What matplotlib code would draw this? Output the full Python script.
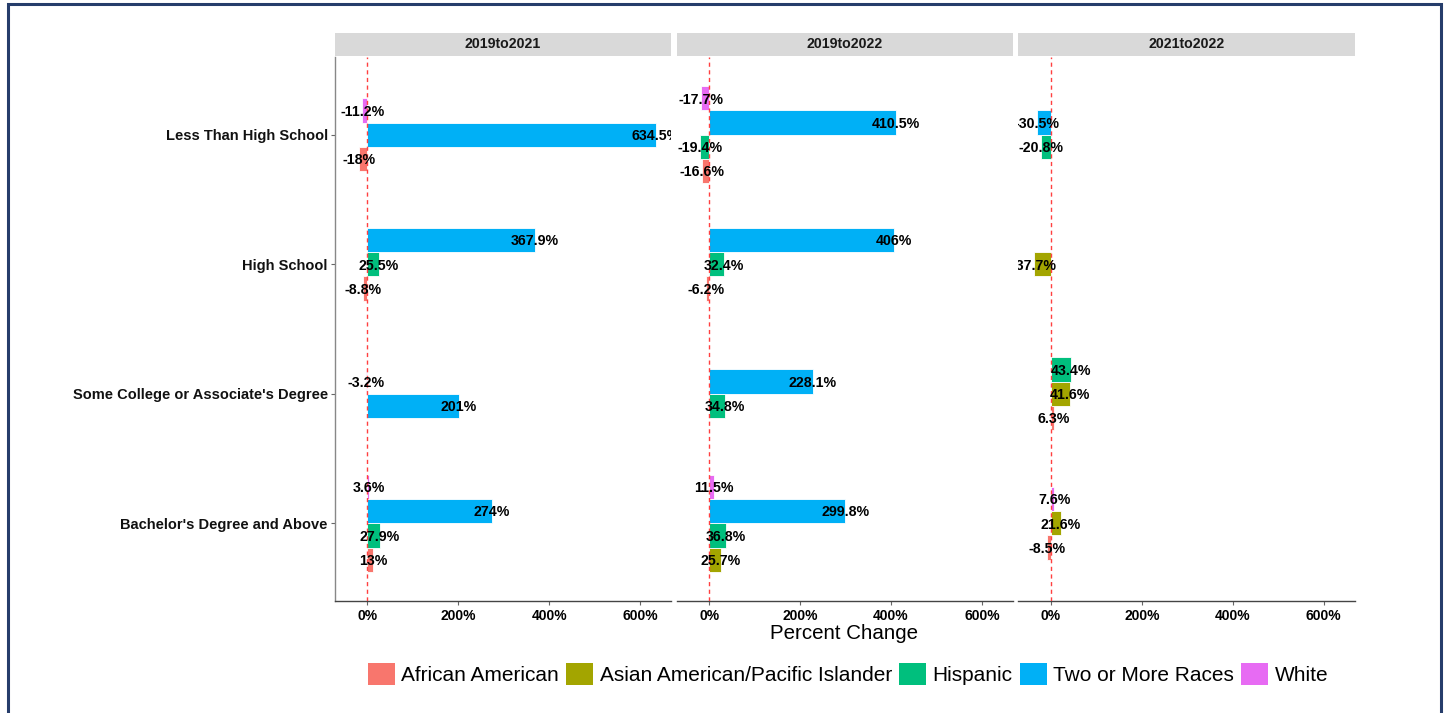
import numpy as np
import matplotlib
matplotlib.use('Agg')
import matplotlib.pyplot as plt
from matplotlib.patches import Rectangle, Patch

plt.rcParams['font.family'] = ['Liberation Sans', 'DejaVu Sans']

periods = ['2019to2021', '2019to2022', '2021to2022']
levels = ['Less Than High School', 'High School',
          "Some College or Associate's Degree", "Bachelor's Degree and Above"]
groups = ['African American', 'Asian American/Pacific Islander', 'Hispanic',
          'Two or More Races', 'White']
colors = ['#F8766D', '#A3A500', '#00BF7D', '#00B0F6', '#E76BF3']

# percent change per group, one list per period (None = no bar)
chg_2019_2021 = {
    'African American': [-18, -8.8, None, 13],
    'Asian American/Pacific Islander': [None, None, None, None],
    'Hispanic': [None, 25.5, None, 27.9],
    'Two or More Races': [634.5, 367.9, 201, 274],
    'White': [-11.2, None, -3.2, 3.6],
}
chg_2019_2022 = {
    'African American': [-16.6, -6.2, None, None],
    'Asian American/Pacific Islander': [None, None, None, 25.7],
    'Hispanic': [-19.4, 32.4, 34.8, 36.8],
    'Two or More Races': [410.5, 406, 228.1, 299.8],
    'White': [-17.7, None, None, 11.5],
}
chg_2021_2022 = {
    'African American': [None, None, 6.3, -8.5],
    'Asian American/Pacific Islander': [None, -37.7, 41.6, 21.6],
    'Hispanic': [-20.8, None, 43.4, None],
    'Two or More Races': [-30.5, None, None, None],
    'White': [None, None, None, 7.6],
}
data = [chg_2019_2021, chg_2019_2022, chg_2021_2022]

xticks = [0, 200, 400, 600]
xlim = (-71.7, 668)
bw = 0.1875  # dodge slot per bar (0.75 / 4)

W, H = 1449, 713
fig = plt.figure(figsize=(W / 100, H / 100), dpi=100)

pw, gap = 336.3, 5.5
top, bottom = 57, 601
axes = []
for p, period in enumerate(periods):
    left = 334.7 + p * (pw + gap)
    ax = fig.add_axes([left / W, 1 - bottom / H, pw / W, (bottom - top) / H])
    axes.append(ax)
    d = data[p]
    for i, lev in enumerate(levels):
        present = [g for g in groups if d[g][i] is not None]
        k = len(present)
        for j, g in enumerate(present):
            v = d[g][i]
            y = i + ((k - 1) / 2 - j) * bw
            ax.barh(y, v, height=bw, color=colors[groups.index(g)],
                    edgecolor='white', linewidth=0.6, zorder=2)
            ax.text(v, y + 0.01, f'{v:g}%', ha='center', va='center',
                    fontsize=10.2, fontweight='bold', color='black',
                    clip_on=True, zorder=4)
    ax.axvline(0, color='#FF4040', lw=1.0, ls=(0, (3, 2.5)), zorder=3)
    ax.set_xlim(*xlim)
    ax.set_ylim(3.6, -0.6)
    ax.set_xticks(xticks)
    ax.set_xticklabels([f'{t}%' for t in xticks], fontsize=10,
                       fontweight='bold', color='black')
    ax.tick_params(axis='x', length=3, width=0.8, color='#666666', pad=3)
    for s in ['top', 'right']:
        ax.spines[s].set_visible(False)
    ax.spines['bottom'].set_color('#444444')
    ax.spines['bottom'].set_linewidth(1)
    if p == 0:
        ax.spines['left'].set_color('#888888')
        ax.spines['left'].set_linewidth(1)
        ax.set_yticks(range(len(levels)))
        ax.set_yticklabels(levels, fontsize=10.5, fontweight='bold',
                           color='#111111')
        ax.tick_params(axis='y', length=3, width=0.8, color='#666666', pad=2)
    else:
        ax.spines['left'].set_visible(False)
        ax.set_yticks([])
    # facet strip
    sh = 23 / (bottom - top)
    ax.add_patch(Rectangle((0, 1 + 1 / (bottom - top)), 1, sh,
                           transform=ax.transAxes, facecolor='#D9D9D9',
                           edgecolor='none', clip_on=False))
    ax.text(0.5, 1 + 1 / (bottom - top) + sh / 2, period,
            transform=ax.transAxes, ha='center', va='center',
            fontsize=10.2, fontweight='bold', color='#1a1a1a')

fig.text(844.5 / W, 1 - 633.5 / H, 'Percent Change', ha='center', va='center',
         fontsize=14.8, color='black')

handles = [Patch(facecolor=c, edgecolor='none') for c in colors]
fig.legend(handles, groups, loc='center', ncol=5, frameon=False,
           bbox_to_anchor=(848 / W, 1 - 674 / H), fontsize=15,
           handlelength=1.3, handleheight=1.3, handletextpad=0.3,
           columnspacing=0.35, borderpad=0)

# outer frame
fig.add_artist(Rectangle((7.5 / W, -0.01), (1441 - 7.5) / W, 1 - 4 / H + 0.01,
                         transform=fig.transFigure, fill=False,
                         edgecolor='#263D6B', linewidth=2.2))

fig.savefig('out.png', dpi=100)
